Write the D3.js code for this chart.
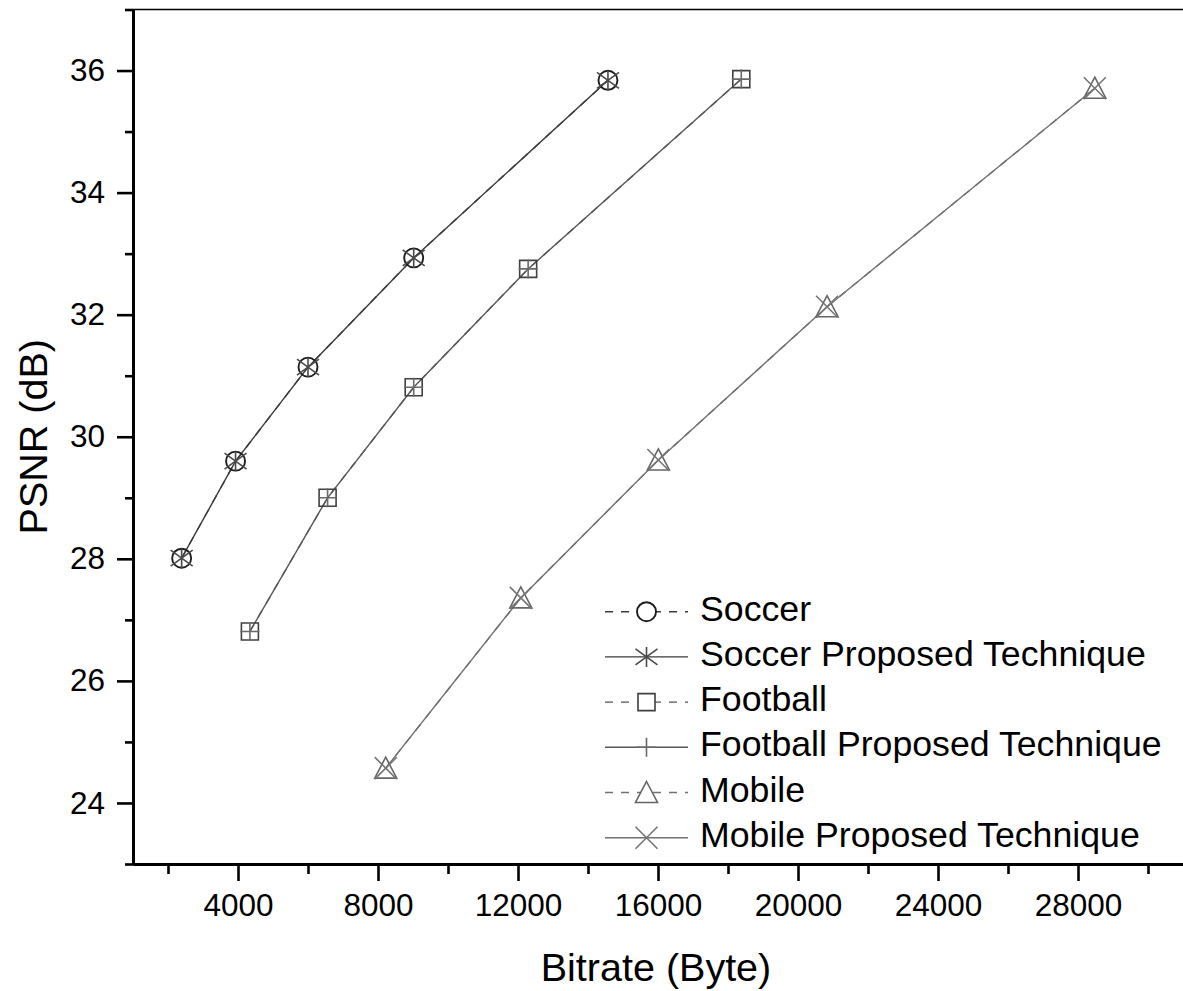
<!DOCTYPE html>
<html>
<head>
<meta charset="utf-8">
<script src="https://cdn.jsdelivr.net/npm/d3@7"></script>
<style>
  html, body { margin: 0; padding: 0; background: #fff; }
  svg { display: block; font-family: "Liberation Sans", Arial, sans-serif; }
</style>
</head>
<body>
<svg id="chart" width="1183" height="991"></svg>
<script>
// Rate–distortion curves: PSNR against bitrate for three sequences
const soccerBitrate   = [2390, 3930, 6000, 9020, 14570];
const soccerPSNR      = [28.01, 29.60, 31.14, 32.93, 35.84];
const footballBitrate = [4340, 6560, 9020, 12290, 18380];
const footballPSNR    = [26.81, 29.00, 30.81, 32.75, 35.86];
const mobileBitrate   = [8220, 12080, 16010, 20830, 28480];
const mobilePSNR      = [24.57, 27.36, 29.62, 32.13, 35.71];

const xMajorTicks = [4000, 8000, 12000, 16000, 20000, 24000, 28000];
const xMinorTicks = [2000, 6000, 10000, 14000, 18000, 22000, 26000, 30000];
const yMajorTicks = [24, 26, 28, 30, 32, 34, 36];
const yMinorTicks = [23, 25, 27, 29, 31, 33, 35, 37];

const seriesNames = ["Soccer", "Soccer Proposed Technique", "Football",
                     "Football Proposed Technique", "Mobile", "Mobile Proposed Technique"];

const zip = (xs, ys) => xs.map((x, i) => ({ x, y: ys[i] }));

const series = [
  { name: seriesNames[0], pts: zip(soccerBitrate, soccerPSNR), dashed: true,  marker: "circle",   line: "#3a3a3a", mark: "#1e1e1e" },
  { name: seriesNames[1], pts: zip(soccerBitrate, soccerPSNR), dashed: false, marker: "asterisk", line: "#3a3a3a", mark: "#4a4a4a" },
  { name: seriesNames[2], pts: zip(footballBitrate, footballPSNR), dashed: true,  marker: "square", line: "#575757", mark: "#404040" },
  { name: seriesNames[3], pts: zip(footballBitrate, footballPSNR), dashed: false, marker: "plus",  line: "#575757", mark: "#6a6a6a" },
  { name: seriesNames[4], pts: zip(mobileBitrate, mobilePSNR), dashed: true,  marker: "triangle", line: "#717171", mark: "#666666" },
  { name: seriesNames[5], pts: zip(mobileBitrate, mobilePSNR), dashed: false, marker: "cross",    line: "#717171", mark: "#757575" }
];

const svg = d3.select("#chart");
const plotLeft = 133, plotRight = 1183, plotTop = 9.5, plotBottom = 864;

const x = d3.scaleLinear().domain([1000, 31000]).range([plotLeft, plotRight]);
const y = d3.scaleLinear().domain([23, 37]).range([plotBottom, plotTop]);

// frame top edge
svg.append("line")
  .attr("x1", plotLeft).attr("x2", plotRight)
  .attr("y1", plotTop).attr("y2", plotTop)
  .attr("stroke", "#000").attr("stroke-width", 1.5);

// marker shapes as path strings centred on 0,0
function markerPath(type) {
  switch (type) {
    case "asterisk": return "M0,-10L0,10M-11,-8L11,8M-11,8L11,-8";
    case "square":   return "M-8.5,-8.5H8.5V8.5H-8.5Z";
    case "plus":     return "M0,-9.5V9.5M-9.5,0H9.5";
    case "triangle": return "M0,-11L11,10H-11Z";
    case "cross":    return "M-11,-11L11,11M-11,11L11,-11";
  }
  return "";
}

function drawMarker(g, type, color) {
  if (type === "circle") {
    g.append("circle").attr("r", 9.5)
      .attr("fill", "none").attr("stroke", color).attr("stroke-width", 1.9);
  } else {
    g.append("path").attr("d", markerPath(type))
      .attr("fill", "none").attr("stroke", color).attr("stroke-width", 1.6);
  }
}

const lineGen = d3.line().x(d => x(d.x)).y(d => y(d.y));

// lines
series.forEach(s => {
  svg.append("path")
    .datum(s.pts)
    .attr("d", lineGen)
    .attr("fill", "none")
    .attr("stroke", s.line)
    .attr("stroke-width", 1.4)
    .attr("stroke-dasharray", s.dashed ? "8,8" : null);
});

// markers
series.forEach(s => {
  s.pts.forEach(p => {
    const g = svg.append("g").attr("transform", `translate(${x(p.x)},${y(p.y)})`);
    drawMarker(g, s.marker, s.mark);
  });
});

// axes
function styleAxis(g) {
  g.select(".domain").attr("stroke", "#000").attr("stroke-width", 3);
  g.selectAll(".tick line").attr("stroke", "#000").attr("stroke-width", 2.6);
  g.selectAll(".tick text").attr("fill", "#000");
}

const xMinor = svg.append("g").attr("transform", `translate(0,${plotBottom})`)
  .call(d3.axisBottom(x).tickValues(xMinorTicks).tickSize(10).tickSizeOuter(0).tickFormat(""));
styleAxis(xMinor);
const xMajor = svg.append("g").attr("transform", `translate(0,${plotBottom})`)
  .call(d3.axisBottom(x).tickValues(xMajorTicks).tickSize(17).tickSizeOuter(0).tickPadding(13).tickFormat(d3.format("d")));
styleAxis(xMajor);
xMajor.selectAll(".tick text").attr("font-size", 31.5);

const yMinor = svg.append("g").attr("transform", `translate(${plotLeft},0)`)
  .call(d3.axisLeft(y).tickValues(yMinorTicks).tickSize(8).tickSizeOuter(0).tickFormat(""));
styleAxis(yMinor);
const yMajor = svg.append("g").attr("transform", `translate(${plotLeft},0)`)
  .call(d3.axisLeft(y).tickValues(yMajorTicks).tickSize(16).tickSizeOuter(0).tickPadding(12).tickFormat(d3.format("d")));
styleAxis(yMajor);
yMajor.selectAll(".tick text").attr("font-size", 31.5);

// axis titles
svg.append("text")
  .attr("x", 656).attr("y", 981)
  .attr("text-anchor", "middle").attr("font-size", 39.5).attr("fill", "#000")
  .text("Bitrate (Byte)");

svg.append("text")
  .attr("transform", `translate(47,${(plotTop + plotBottom) / 2}) rotate(-90)`)
  .attr("text-anchor", "middle").attr("font-size", 39.5).attr("fill", "#000")
  .text("PSNR (dB)");

// legend
const legend = svg.append("g");
const rowH = 45.2, firstBase = 620.7;
series.forEach((s, i) => {
  const base = firstBase + i * rowH;
  const ly = base - 9;
  legend.append("line")
    .attr("x1", 605).attr("x2", 688).attr("y1", ly).attr("y2", ly)
    .attr("stroke", s.line).attr("stroke-width", 1.4)
    .attr("stroke-dasharray", s.dashed ? "8,8" : null);
  const g = legend.append("g").attr("transform", `translate(646.5,${ly})`);
  // hollow markers mask the line behind them
  if (s.marker === "circle") g.append("circle").attr("r", 9.5).attr("fill", "#fff");
  else if (s.marker === "square" || s.marker === "triangle")
    g.append("path").attr("d", markerPath(s.marker)).attr("fill", "#fff");
  drawMarker(g, s.marker, s.mark);
  legend.append("text")
    .attr("x", 700).attr("y", base)
    .attr("font-size", 35.7).attr("fill", "#000")
    .text(s.name);
});
</script>
</body>
</html>
